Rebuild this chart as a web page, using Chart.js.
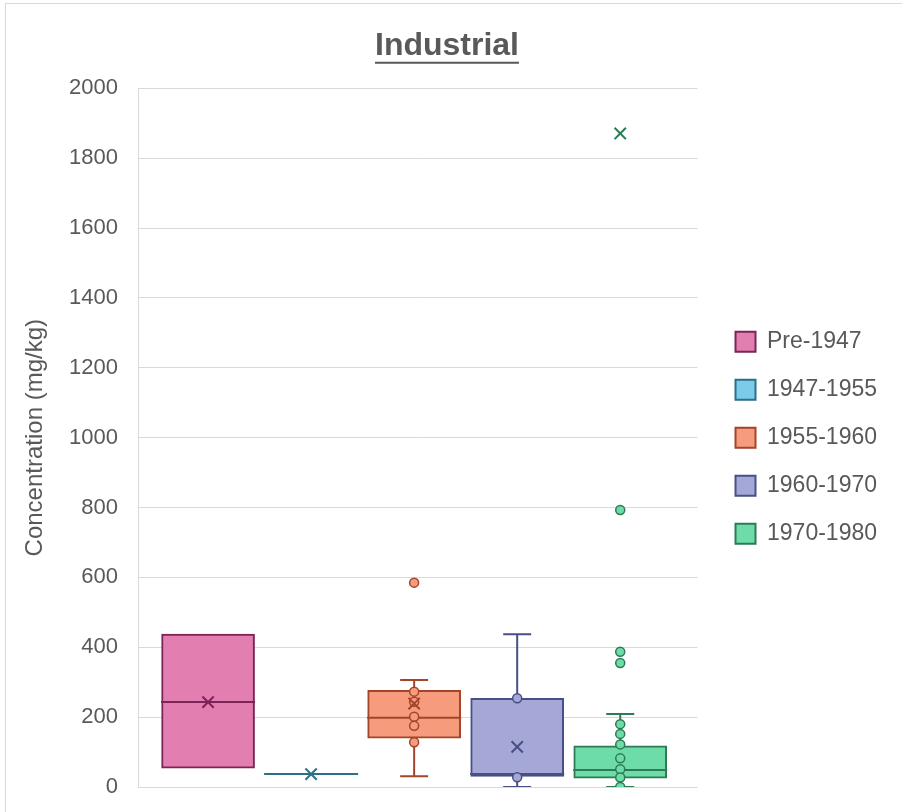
<!DOCTYPE html>
<html>
<head>
<meta charset="utf-8">
<script src="https://cdn.jsdelivr.net/npm/chart.js@4.4.1/dist/chart.umd.min.js"></script>
<style>
  html, body { margin: 0; padding: 0; background: #fff; }
  #wrap { position: relative; width: 902px; height: 812px; overflow: hidden; }
  #frame { position: absolute; left: 5px; top: 3px; width: 1000px; height: 1000px;
           border-left: 1px solid #d9d9d9; border-top: 1px solid #d9d9d9; }
  canvas { position: absolute; left: 0; top: 0; }
</style>
</head>
<body>
<div id="wrap">
  <div id="frame"></div>
  <canvas id="myChart" width="902" height="812"></canvas>
</div>
<script>
// box plot values (mg/kg)
const seriesNames = ['Pre-1947', '1947-1955', '1955-1960', '1960-1970', '1970-1980'];
const boxQ1 = [54, 37, 140, 30, 25];
const boxMedian = [243, 37, 198, 37, 49];
const boxQ3 = [438, 37, 277, 254, 118];
const whiskerLow = [null, null, 31, 0, 0];
const whiskerHigh = [null, null, 306, 437, 209];
const meanValues = [243, 37, 239, 115, 1871];
const innerPoints = [[], [], [273, 244, 201, 175, 128], [254, 28], [180, 152, 122, 82, 51, 27, 0]];
const outlierPoints = [[], [], [585], [], [793, 387, 355]];
const yTicks = [0, 200, 400, 600, 800, 1000, 1200, 1400, 1600, 1800, 2000];

const fillColors = ['#e27fb0', '#7ccbe8', '#f69b7b', '#a5a8d7', '#6ddca9'];
const lineColors = ['#7c2358', '#2c6f88', '#a4442a', '#474f86', '#2d7a55'];

const datasets = [];
seriesNames.forEach((name, i) => {
  const x = i + 1;
  datasets.push({
    type: 'bar',
    label: name,
    isBox: true,
    data: [{ x: x, y: [boxQ1[i], boxQ3[i]] }],
    backgroundColor: fillColors[i],
    borderColor: lineColors[i],
    borderWidth: 2,
    borderSkipped: false,
    grouped: false,
    barThickness: 93,
    order: 5
  });
  if (whiskerLow[i] !== null) {
    datasets.push({
      type: 'line',
      label: name + ' whisker',
      data: [{ x: x, y: whiskerLow[i] }, { x: x, y: whiskerHigh[i] }],
      borderColor: lineColors[i],
      borderWidth: 2,
      pointStyle: 'line',
      pointRadius: 14,
      pointBorderWidth: 2,
      pointBorderColor: lineColors[i],
      order: 6
    });
  }
  datasets.push({
    type: 'scatter',
    label: name + ' median',
    data: [{ x: x, y: boxMedian[i] }],
    pointStyle: 'line',
    pointRadius: 47,
    pointBorderWidth: 2,
    pointBorderColor: lineColors[i],
    order: 4
  });
  const pts = innerPoints[i].concat(outlierPoints[i]);
  if (pts.length) {
    datasets.push({
      type: 'scatter',
      label: name + ' points',
      data: pts.map(v => ({ x: x, y: v })),
      pointStyle: 'circle',
      pointRadius: 4.5,
      pointBorderWidth: 1.5,
      pointBackgroundColor: fillColors[i],
      pointBorderColor: lineColors[i],
      order: 3
    });
  }
  datasets.push({
    type: 'scatter',
    label: name + ' mean',
    data: [{ x: x, y: meanValues[i] }],
    pointStyle: 'crossRot',
    pointRadius: 8,
    pointBorderWidth: 2,
    pointBorderColor: lineColors[i],
    order: 2
  });
});

// underline under the chart title, like the Excel original
const underlineTitle = {
  id: 'underlineTitle',
  afterDraw(chart) {
    const t = chart.titleBlock;
    if (!t) return;
    const ctx = chart.ctx;
    const font = Chart.helpers.toFont(chart.options.plugins.title.font);
    ctx.save();
    ctx.font = font.string;
    const w = ctx.measureText(chart.options.plugins.title.text).width;
    const cx = (t.left + t.right) / 2;
    const y = t.top + t.options.padding.top + font.lineHeight / 2 + font.size * 0.52;
    ctx.strokeStyle = '#595959';
    ctx.lineWidth = 2;
    ctx.beginPath();
    ctx.moveTo(cx - w / 2, y);
    ctx.lineTo(cx + w / 2, y);
    ctx.stroke();
    ctx.restore();
  }
};

// leave a wider gap between plot and legend than the legend row padding
const legendGap = {
  id: 'legendGap',
  afterLayout(chart) {
    chart.legend.left += 13;
    chart.legend.right += 13;
  }
};

new Chart(document.getElementById('myChart').getContext('2d'), {
  type: 'bar',
  data: { datasets: datasets },
  plugins: [underlineTitle, legendGap],
  options: {
    responsive: false,
    animation: false,
    events: [],
    layout: { autoPadding: false, padding: { left: 20, right: 28, top: 0, bottom: 25 } },
    scales: {
      x: {
        type: 'linear',
        min: 0.32,
        max: 5.75,
        offset: false,
        display: false
      },
      y: {
        min: 0,
        max: 2000,
        afterBuildTicks: (s) => { s.ticks = yTicks.map(v => ({ value: v })); },
        grid: { color: '#d9d9d9', lineWidth: 1, drawTicks: false },
        border: { display: true, color: '#d9d9d9', width: 1 },
        ticks: {
          color: '#595959',
          padding: 20,
          callback: (v) => String(v),
          font: { family: 'Liberation Sans', size: 22 }
        },
        title: {
          display: true,
          text: 'Concentration (mg/kg)',
          color: '#595959',
          padding: { top: 1, bottom: 0 },
          font: { family: 'Liberation Sans', size: 24 }
        },
        afterFit: (s) => {
          s.width = 118;
          s.paddingTop = 0;
          s.paddingBottom = 0;
        }
      }
    },
    plugins: {
      tooltip: { enabled: false },
      title: {
        display: true,
        text: 'Industrial',
        color: '#595959',
        padding: { top: 27, bottom: 23 },
        font: { family: 'Liberation Sans', size: 32, weight: 'bold' }
      },
      legend: {
        position: 'right',
        fullSize: false,
        labels: {
          filter: (item, data) => data.datasets[item.datasetIndex].isBox,
          boxWidth: 20,
          boxHeight: 20,
          padding: 25,
          color: '#595959',
          font: { family: 'Liberation Sans', size: 23 }
        }
      }
    }
  }
});
</script>
</body>
</html>
